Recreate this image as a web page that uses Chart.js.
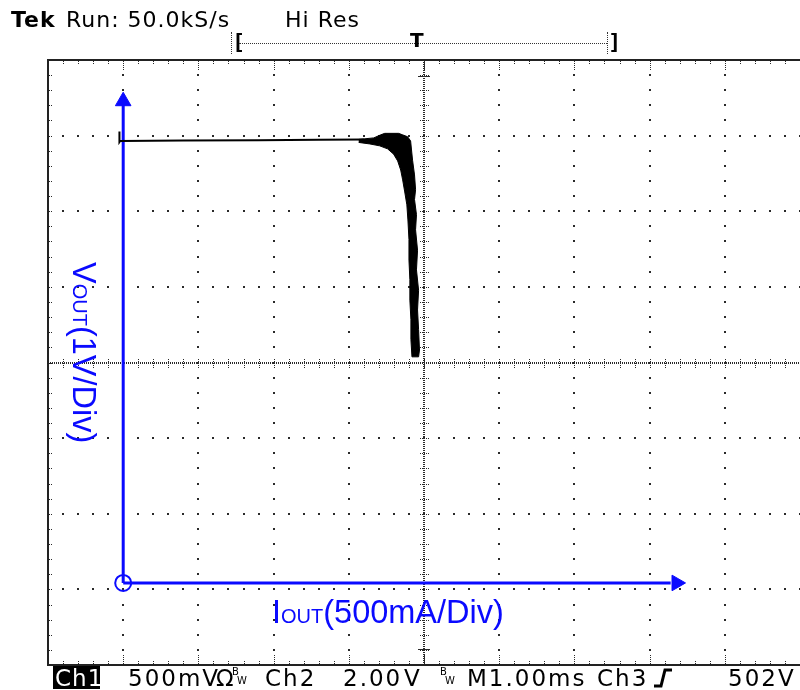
<!DOCTYPE html>
<html>
<head>
<meta charset="utf-8">
<script src="https://cdn.jsdelivr.net/npm/chart.js@4/dist/chart.umd.min.js"></script>
<style>
html, body { margin: 0; padding: 0; background: #fff; overflow: hidden; }
#wrap { position: relative; width: 800px; height: 690px; overflow: hidden; }
#scope { position: absolute; left: 0; top: 0; }
.txt { position: absolute; white-space: nowrap; line-height: 1; color: #000; }
.top { font-family: "DejaVu Sans", sans-serif; font-size: 22px; top: 9px; letter-spacing: 1px; }
.bot { font-family: "DejaVu Sans", sans-serif; font-size: 23px; top: 667px; letter-spacing: 2px; }
.tiny { position: absolute; font-family: "DejaVu Sans", sans-serif; font-size: 10px; line-height: 1; }
.blue { position: absolute; white-space: nowrap; line-height: 1; font-family: "Liberation Sans", Arial, sans-serif; font-size: 32.5px; color: #0a0aff; }
.blue small { font-size: 20px; }
</style>
</head>
<body>
<div id="wrap">
<canvas id="scope" width="810" height="690"></canvas>

<div class="txt top" style="left:11px; font-weight:bold; letter-spacing:1px;">Tek</div>
<div class="txt top" style="left:66px;">Run: 50.0kS/s</div>
<div class="txt top" style="left:285px;">Hi Res</div>

<div style="position:absolute; left:231px; top:32px; height:22px; border-left:1px dotted #333;"></div>
<div class="txt" style="left:232px; top:31px; font-family:'DejaVu Sans Mono',monospace; font-size:22px; font-weight:bold;">[</div>
<div style="position:absolute; left:239px; top:43px; width:368px; border-top:1px dotted #333;"></div>
<div class="txt" style="left:410px; top:30px; font-family:'DejaVu Sans',sans-serif; font-size:20px; font-weight:bold;">T</div>
<div style="position:absolute; left:607px; top:32px; height:22px; border-left:1px dotted #333;"></div>
<div class="txt" style="left:608px; top:31px; font-family:'DejaVu Sans Mono',monospace; font-size:22px; font-weight:bold;">]</div>

<div class="blue" style="left:272px; top:596px;">I<small>OUT</small>(500mA/Div)</div>
<div class="blue" style="left:100px; top:262px; transform-origin:0 0; transform:rotate(90deg);">V<small>OUT</small>(1V/Div)</div>

<div style="position:absolute; left:53px; top:666px; width:47px; height:23px; background:#000;"></div>
<div class="txt bot" style="left:55px; color:#fff; letter-spacing:1px;">Ch1</div>
<div class="txt bot" style="left:128px;">500mV</div>
<div class="txt bot" style="left:216px; letter-spacing:0;">Ω</div>
<div class="tiny" style="left:232px; top:667px;">B</div>
<div class="tiny" style="left:237px; top:676px;">W</div>
<div class="txt bot" style="left:265px;">Ch2</div>
<div class="txt bot" style="left:343px;">2.00</div>
<div class="txt bot" style="left:404px;">V</div>
<div class="tiny" style="left:440px; top:667px;">B</div>
<div class="tiny" style="left:445px; top:676px;">W</div>
<div class="txt bot" style="left:467px;">M1.00ms</div>
<div class="txt bot" style="left:597px;">Ch3</div>
<svg style="position:absolute; left:652px; top:668px;" width="22" height="20"><polyline points="2,18 9,18 13,2 20,2" fill="none" stroke="#000" stroke-width="3"/></svg>
<div class="txt bot" style="left:728px;">502</div>
<div class="txt bot" style="left:778px;">V</div>
</div>

<script>
// Scope trace: current (mA) vs voltage (V), origin at the blue axes
const traceCurrent = [-25, -25, -20, 400, 900, 1300, 1600];
const traceVoltage = [5.97, 5.83, 5.845, 5.85, 5.855, 5.86, 5.865];

// noisy band where the output drops (outline, upper/right edge then lower/left edge)
const bandCurrent = [1566, 1666, 1712, 1739, 1831, 1858, 1891, 1911, 1917, 1924, 1937, 1944, 1937, 1950, 1944, 1957, 1950, 1964, 1957, 1964, 1970, 1964,
    1920, 1913, 1913, 1906, 1906, 1900, 1900, 1893, 1886, 1872, 1858, 1845, 1825, 1798, 1758, 1705, 1640, 1566];
const bandVoltage = [5.865, 5.885, 5.925, 5.945, 5.945, 5.925, 5.90, 5.845, 5.725, 5.59, 5.395, 5.20, 5.07, 4.87, 4.67, 4.40, 4.14, 3.87, 3.61, 3.35, 3.08, 2.99,
    2.99, 3.22, 3.48, 3.74, 4.01, 4.27, 4.54, 4.80, 5.00, 5.17, 5.33, 5.46, 5.58, 5.67, 5.74, 5.78, 5.805, 5.825];

// blue axes
const vAxisEnd = 6.33;
const vArrowAt = 6.37;
const iAxisEnd = 3640;
const iArrowAt = 3679;

// screen: 10 x 8 divisions, 500 mA/div and 1 V/div
const xMin = -500, xMax = 4500;
const yMin = -1.085, yMax = 6.915;
const xMinor = 100, yMinor = 0.2;

const toPoints = (xs, ys) => xs.map((v, i) => ({ x: v, y: ys[i] }));

const blue = '#0a0aff';

const gridPlugin = {
    id: 'scopeGrid',
    beforeDatasetsDraw(chart) {
        const { ctx, chartArea: a, scales: { x, y } } = chart;
        ctx.save();
        ctx.fillStyle = '#2a2a2a';
        const nx = Math.round((xMax - xMin) / xMinor);
        const ny = Math.round((yMax - yMin) / yMinor);
        const px = i => Math.round(x.getPixelForValue(xMin + i * xMinor));
        const py = j => Math.round(y.getPixelForValue(yMin + j * yMinor));
        const cx = nx / 2, cy = ny / 2;

        // dotted major lines
        for (let i = 5; i < nx; i += 5) {
            if (i === cx) continue;
            for (let j = 0; j <= ny; j++) ctx.fillRect(px(i) - 1, py(j) - 1, 2, 2);
        }
        for (let j = 5; j < ny; j += 5) {
            if (j === cy) continue;
            for (let i = 0; i <= nx; i++) ctx.fillRect(px(i) - 1, py(j) - 1, 2, 2);
        }

        // center cross with fine dots and ticks
        const X0 = px(cx), Y0 = py(cy);
        for (let p = a.top; p < a.bottom; p += 2) ctx.fillRect(X0 - 1, p, 2, 1);
        for (let p = a.left; p < a.right; p += 2) ctx.fillRect(p, Y0 - 1, 1, 2);
        for (let j = 0; j <= ny; j++) {
            for (let d = -4; d <= 4; d += 2) ctx.fillRect(X0 + d, py(j), 1, 1);
        }
        for (let i = 0; i <= nx; i++) {
            for (let d = -4; d <= 4; d += 2) ctx.fillRect(px(i), Y0 + d, 1, 1);
        }

        // frame ticks
        for (let i = 1; i < nx; i++) {
            const len = i % 5 === 0 ? 10 : 4;
            for (let d = 0; d < len; d += 2) {
                ctx.fillRect(px(i), a.top + 1 + d, 1, 1);
                ctx.fillRect(px(i), a.bottom - 2 - d, 1, 1);
            }
        }
        for (let j = 1; j < ny; j++) {
            ctx.fillRect(a.left + 1, py(j), 1, 1);
            ctx.fillRect(a.left + 3, py(j), 1, 1);
        }

        // trigger markers
        ctx.fillRect(X0 - 6, a.top + 16, 12, 1);
        ctx.fillRect(X0 - 6, a.bottom - 16, 12, 1);

        // frame
        ctx.fillStyle = '#222';
        ctx.fillRect(a.left - 1, a.top - 1, 2, a.bottom - a.top + 2);
        ctx.fillRect(a.left - 1, a.top - 1, a.right - a.left + 2, 2);
        ctx.fillRect(a.left - 1, a.bottom - 1, a.right - a.left + 2, 2);
        ctx.restore();
    }
};

const scopeData = {
    datasets: [{
        label: 'band',
        data: toPoints(bandCurrent, bandVoltage),
        showLine: true,
        fill: 'shape',
        backgroundColor: '#000',
        borderColor: '#000',
        borderWidth: 1,
        pointRadius: 0,
        tension: 0
    }, {
        label: 'trace',
        data: toPoints(traceCurrent, traceVoltage),
        showLine: true,
        borderColor: '#000',
        borderWidth: 2,
        pointRadius: 0,
        tension: 0
    }, {
        label: 'vAxis',
        data: [{ x: 0, y: 0 }, { x: 0, y: vAxisEnd }],
        showLine: true,
        borderColor: blue,
        borderWidth: 3,
        pointRadius: 0
    }, {
        label: 'iAxis',
        data: [{ x: 0, y: 0 }, { x: iAxisEnd, y: 0 }],
        showLine: true,
        borderColor: blue,
        borderWidth: 3,
        pointRadius: 0
    }, {
        label: 'arrows',
        data: [{ x: 0, y: vArrowAt }, { x: iArrowAt, y: 0 }],
        showLine: false,
        pointStyle: 'triangle',
        pointRadius: 9,
        pointRotation: [0, 90],
        pointBackgroundColor: blue,
        pointBorderColor: blue,
        pointBorderWidth: 1
    }, {
        label: 'origin',
        data: [{ x: 0, y: 0 }],
        showLine: false,
        pointStyle: 'circle',
        pointRadius: 8,
        pointBackgroundColor: 'rgba(0,0,0,0)',
        pointBorderColor: blue,
        pointBorderWidth: 2
    }]
};

new Chart(document.getElementById('scope'), {
    type: 'scatter',
    data: scopeData,
    options: {
        responsive: false,
        animation: false,
        events: [],
        layout: { padding: { left: 48, top: 60, right: 7, bottom: 25 } },
        scales: {
            x: { type: 'linear', min: xMin, max: xMax, display: false },
            y: { type: 'linear', min: yMin, max: yMax, display: false }
        },
        plugins: {
            legend: { display: false },
            tooltip: { enabled: false }
        }
    },
    plugins: [gridPlugin]
});
</script>
</body>
</html>
